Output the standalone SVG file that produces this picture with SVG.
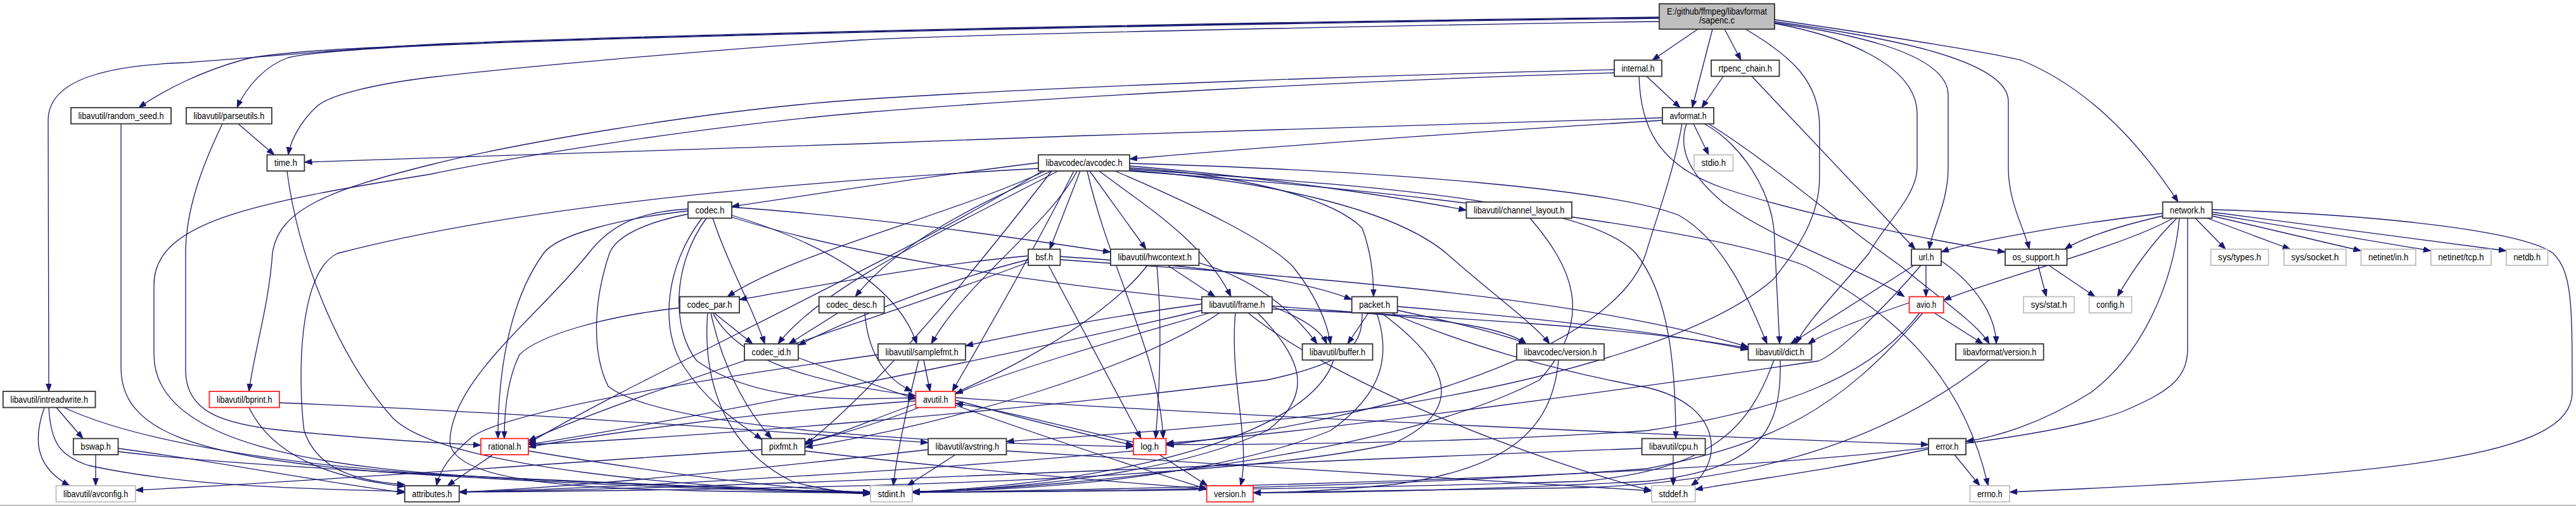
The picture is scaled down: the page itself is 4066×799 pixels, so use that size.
<svg xmlns="http://www.w3.org/2000/svg" width="4066" height="799" viewBox="0 0 4066 799">
<style>
.n rect{fill:#fff;stroke:#333;stroke-width:1.8}
.n.g rect{stroke:#bfbfbf}
.n.r rect{stroke:#ff2020}
.n.root rect{fill:#bfbfbf}
.n text{font-family:"Liberation Sans",Arial,sans-serif;font-size:14.5px;text-anchor:middle;fill:#000}
#edges path{fill:none;stroke:#191970;stroke-width:1.3;marker-end:url(#a)}
</style>
<defs>
<marker id="a" markerWidth="13" markerHeight="10" refX="12" refY="4.5" orient="auto" markerUnits="userSpaceOnUse"><path d="M0,0 L12,4.5 L0,9 z" fill="#191970" stroke="#191970" stroke-width="0.8"/></marker>
</defs>
<rect x="0" y="0" width="4066" height="799" fill="#fff"/>
<line x1="0" y1="798" x2="4066" y2="798" stroke="#c0c0c0" stroke-width="2"/>
<g id="edges">
<path d="M2680,46 L2608,95"/>
<path d="M2703,46 L2671,170"/>
<path d="M2722,46 L2748,95"/>
<path d="M2619,28 C2100,34 1200,50 700,70 C560,76 430,82 385,94 C320,112 262,140 219,170"/>
<path d="M2619,29 C2100,35 1200,51 700,71 C580,76 480,84 455,91 C420,103 390,135 374,170"/>
<path d="M2619,27 C2100,33 1200,49 700,69 C560,76 330,97 290,99 C180,103 76,122 76,190 L77,618"/>
<path d="M2619,34 C2200,40 1500,55 1360,63 C1100,80 800,108 680,122 C590,133 520,150 500,168 C472,194 458,225 455,244.5"/>
<path d="M2801,36 C2900,50 3075,80 3075,150 L3075,265 C3075,320 3050,360 3045,393.5"/>
<path d="M2801,34 C2950,55 3170,90 3170,160 L3170,265 C3170,320 3195,360 3203,393.5"/>
<path d="M2801,31 C3000,60 3150,85 3190,95 C3300,140 3380,230 3438,319"/>
<path d="M2801,37 C2900,55 3026,100 3026,180 L3026,265 C3026,310 2970,360 2950,400 C2900,460 2850,510 2835,543"/>
<path d="M2755,46 C2830,90 2872,130 2872,200 L2872,280 C2872,340 2840,390 2800,440 C2700,530 2450,600 2200,640 C1950,675 1700,690 1588.5,697"/>
<path d="M2599,120.5 L2652,170"/>
<path d="M2587,120.5 C2590,200 2615,260 2720,297 C2850,340 3050,380 3165,398"/>
<path d="M2548,110 C2200,118 1700,135 1360,157 C1100,175 800,230 680,260 C520,300 440,330 430,400 C425,480 400,560 393,618"/>
<path d="M2548,115 C2200,125 1700,150 1360,178 C1100,200 800,250 680,275 C400,320 243,350 243,450 L243,560 C243,700 500,740 800,755 C1000,765 1250,775 1374,778"/>
<path d="M2720,120.5 L2686,170"/>
<path d="M2765,120.5 L3023,393.5"/>
<path d="M2624,186 C2300,195 1800,210 1360,227 C1000,240 700,248 480.5,256"/>
<path d="M2624,190 C2300,210 2000,232 1783,251"/>
<path d="M2673,195.5 L2697,244.5"/>
<path d="M2690,195.5 C2745,225 2800,300 2801,380 L2809,543"/>
<path d="M2697,195.5 C2800,260 2900,350 3000,420 C3060,470 3120,510 3140,543"/>
<path d="M2662,195.5 C2650,230 2660,270 2720,320 C2800,380 2950,430 3006,468.5"/>
<path d="M2655,195.5 C2640,280 2612,350 2598,400 C2550,550 2200,660 1840.5,703"/>
<path d="M376,195.5 L433,244.5"/>
<path d="M351,195.5 C320,260 293,330 293,400 L293,585 C293,650 350,670 450,680 C600,695 700,700 759,703"/>
<path d="M191,195.5 L191,580 C191,680 300,720 600,745 C900,765 1200,775 1374,779"/>
<path d="M453,270 C470,400 530,560 620,660 C700,740 1100,770 1374,780"/>
<path d="M89,643.5 L131,692.5"/>
<path d="M70,643.5 C50,700 60,740 110,767"/>
<path d="M77,643.5 C80,700 95,720 140,735 C300,770 500,772 638.8,776"/>
<path d="M101,643.5 C200,690 400,730 700,750 C1000,765 1250,775 1374,777"/>
<path d="M151,718 L151,767"/>
<path d="M186.5,708 C350,730 500,760 638.8,778"/>
<path d="M186.5,713 C400,740 900,760 1374,779"/>
<path d="M393,643.5 C430,720 520,755 638.8,768"/>
<path d="M441,636 C800,650 1200,680 1465,699"/>
<path d="M1639,257 C1450,280 1300,305 1155,326"/>
<path d="M1155,327 C1400,345 1600,375 1753,398"/>
<path d="M1125,344.5 C1150,420 1190,490 1207,543"/>
<path d="M1155,340 C1320,390 1420,460 1447,543"/>
<path d="M1155,343 C1400,420 1800,470 2100,490 C2300,505 2380,520 2409,543"/>
<path d="M1115,344.5 C1060,420 1060,520 1100,570 C1200,640 1350,630 1445.4,628"/>
<path d="M1108,344.5 C1050,420 1040,520 1080,580 C1120,640 1170,670 1202.5,694"/>
<path d="M1086,333 C980,345 880,370 858,400 C800,480 786,600 786,692.5"/>
<path d="M1086,330 C1000,335 960,360 929,400 C850,500 710,600 710,700 C720,760 900,770 1100,775 C1250,778 1330,778 1374,778"/>
<path d="M1086,338 C1000,355 970,380 962,400 C935,480 935,560 960,610 C1050,680 1500,700 1789,705"/>
<path d="M1705,270 L1657,393.5"/>
<path d="M1720,270 L1809,393.5"/>
<path d="M1735,270 C1800,320 1900,380 1943,468.5"/>
<path d="M1783,265 C1950,275 2100,310 2150,360 C2165,400 2168,440 2168,468.5"/>
<path d="M1783,262 C2000,280 2200,310 2314.5,332"/>
<path d="M1783,258 C2200,270 2550,300 2650,340 C2720,380 2760,470 2789,543"/>
<path d="M1783,267 C2100,290 2500,310 2582,400 C2630,460 2645,560 2645,692.5"/>
<path d="M1783,270 C2200,300 2700,360 2850,420 C3000,500 3100,600 3138,767"/>
<path d="M1783,269 C2000,285 2200,330 2283,400 C2350,460 2420,510 2446,543"/>
<path d="M1760,270 C1900,330 2000,380 2040,420 C2080,470 2095,510 2100,543"/>
<path d="M1650,270 C1500,340 1250,400 1148,468.5"/>
<path d="M1660,270 C1550,320 1420,380 1350,468.5"/>
<path d="M1670,270 C1500,360 1300,450 1228,543"/>
<path d="M1695,270 C1640,380 1560,520 1503,618"/>
<path d="M1716,270 C1750,420 1830,560 1836,692.5"/>
<path d="M1660,270 C1560,400 1400,600 1270.6,703"/>
<path d="M1645,270 C1400,420 1000,600 834,700"/>
<path d="M1700,270 C1660,350 1520,450 1470,543"/>
<path d="M1639,266 C1200,290 800,330 533,400 C470,430 470,600 480,680 C500,740 560,760 638.8,765"/>
<path d="M2415,344.5 C2480,420 2520,500 2430,600 C2200,720 1700,770 1440,777"/>
<path d="M3465,344.5 L3513,393.5"/>
<path d="M3484,344.5 L3615,393.5"/>
<path d="M3491.8,341 L3726.7,396"/>
<path d="M3491.8,338 L3837,396"/>
<path d="M3491.8,335 L3956,396"/>
<path d="M3491.8,331 C3800,340 3990,370 4030,400 C4060,430 4060,480 4060,620 C4060,720 3800,750 3172,777"/>
<path d="M3413.6,341 C3330,360 3280,380 3259,393.5"/>
<path d="M3413.6,337 C3250,355 3100,385 3064,398"/>
<path d="M3430,344.5 C3350,390 3150,440 3067.8,474"/>
<path d="M3436,344.5 C3400,380 3370,420 3342,468.5"/>
<path d="M3440,344.5 C3430,450 3380,560 3300,620 C3220,670 3150,690 3103,697"/>
<path d="M3453,344.5 L3453,550 C3453,600 3420,620 3350,650 C3100,740 2200,765 1440,778"/>
<path d="M1655,419 L1801,692.5"/>
<path d="M1623,404 C1450,420 1300,450 1167,473"/>
<path d="M1623,410 C1500,440 1350,500 1260,545"/>
<path d="M1623,414 C1400,500 1000,620 834,696"/>
<path d="M1673.5,405 C1900,420 2050,440 2133.7,473"/>
<path d="M1673.5,410 C2100,440 2500,470 2759.5,548"/>
<path d="M1843,419 L1918,468.5"/>
<path d="M1826,419 C1835,520 1830,620 1824,692.5"/>
<path d="M1892.5,415 C1980,440 2040,490 2079,543"/>
<path d="M1811,419 C1750,500 1550,630 1270.6,700"/>
<path d="M1897,480 C1750,500 1620,525 1524,546"/>
<path d="M1910,494 C1750,540 1580,590 1508,622"/>
<path d="M1897,490 C1600,560 1100,660 834,702"/>
<path d="M1925,494 C1800,580 1500,670 1270.6,706"/>
<path d="M1950,494 C1940,600 1975,700 1958,767"/>
<path d="M2008,484 C2050,500 2085,520 2094,543"/>
<path d="M2008,488 C2300,500 2600,520 2759.5,550"/>
<path d="M1970,494 C2100,600 2400,720 2607,775"/>
<path d="M1985,494 C2050,560 2080,620 2000,680 C1850,750 1600,772 1440,777"/>
<path d="M2160,494 L2127,543"/>
<path d="M2205.7,490 C2300,510 2380,530 2409,543"/>
<path d="M2205.7,484 C2400,500 2600,520 2759.5,552"/>
<path d="M2196,494 C2300,540 2450,585 2600,612 C2720,640 2720,730 2669,767"/>
<path d="M2173,494 C2195,560 2185,620 2100,680 C1900,760 1600,775 1440,776"/>
<path d="M2180,494 C2270,560 2330,640 2200,700 C1900,770 1000,775 724.8,777"/>
<path d="M2150,494 C2150,540 2140,570 2000,600 C1600,650 1100,690 834,702"/>
<path d="M1127,494 L1188,543"/>
<path d="M1073,486 C950,500 850,530 820,560 C800,600 796,650 796,692.5"/>
<path d="M1122,494 C1140,580 1180,650 1218,692.5"/>
<path d="M1125,494 C1160,560 1250,600 1445.4,625"/>
<path d="M1117,494 C1110,580 1130,700 1250,760 C1300,775 1340,778 1374,778"/>
<path d="M1323,494 L1245,543"/>
<path d="M1365,494 C1370,560 1400,600 1440,618"/>
<path d="M1260,565 C1330,590 1400,615 1445.4,630"/>
<path d="M1458,568.5 L1468,618"/>
<path d="M1450,568.5 C1430,650 1415,720 1410,767"/>
<path d="M1386,560 C1100,600 800,650 745,690 C710,720 695,740 689,767"/>
<path d="M1508,632 C1650,670 1750,695 1789,703"/>
<path d="M1508,640 C1650,690 1800,740 1904.7,772"/>
<path d="M1508,628 C2000,660 2700,690 3044,702"/>
<path d="M1445.4,633 C1200,650 950,685 834,706"/>
<path d="M1445.4,638 C1380,660 1320,690 1270.6,698"/>
<path d="M1789,698 C1700,680 1600,650 1508,637"/>
<path d="M1830,718 L1906,767"/>
<path d="M1789,712 C1500,740 1000,770 724.8,777"/>
<path d="M778,718 L706,767"/>
<path d="M834,712 C1000,740 1200,770 1374,778"/>
<path d="M1202.5,710 C900,730 500,760 213.8,774"/>
<path d="M1270.6,712 C1500,740 1750,760 1904.7,772"/>
<path d="M1508,718 L1432,767"/>
<path d="M1588.5,712 C2000,740 2400,765 2607,775"/>
<path d="M1465,710 C1200,740 900,770 724.8,777"/>
<path d="M2641,718 L2641,767"/>
<path d="M2591.6,708 C2000,730 1200,770 724.8,777"/>
<path d="M3085,718 L3125,767"/>
<path d="M3044,709 C2900,740 2750,760 2675.7,773"/>
<path d="M2800,568.5 C2760,680 2700,740 2500,760 C2000,775 1600,777 1440,777"/>
<path d="M2810,568.5 C2812,680 2780,740 2600,760 C2300,775 2100,778 1978,778"/>
<path d="M2460,568.5 C2450,680 2380,740 2200,765 C2100,775 2030,778 1978,778"/>
<path d="M2105,568.5 C2070,680 1800,760 1440,777"/>
<path d="M3140,568.5 C3000,680 2800,760 2500,770 C2200,776 2050,778 1978,778"/>
<path d="M3013.6,478 C2950,500 2880,525 2854,543"/>
<path d="M3053,494 L3130,543"/>
<path d="M3030,494 C2950,600 2800,650 2600,680 C2300,700 2000,702 1840.5,702"/>
<path d="M3035,494 C2900,650 2800,700 2600,740 C2200,770 1700,777 1440,777"/>
<path d="M3040,419 L3040,468.5"/>
<path d="M3021,419 L2826,543"/>
<path d="M3032,419 C2980,480 2900,560 2870,570 C2600,610 2100,680 1840.5,700"/>
<path d="M3064,412 C3120,450 3150,500 3151,543"/>
<path d="M3217,419 L3230,468.5"/>
<path d="M3234,419 L3307,468.5"/>
</g>
<g id="n-root" class="n root"><rect x="2619" y="6" width="182" height="40"/><text x="2710" y="22.7" textLength="158" lengthAdjust="spacingAndGlyphs">E:/github/ffmpeg/libavformat</text><text x="2710" y="37" textLength="56" lengthAdjust="spacingAndGlyphs">/sapenc.c</text></g>
<g id="n-internal" class="n"><rect x="2548" y="95" width="75" height="25.5"/><text x="2585.5" y="112.5" textLength="52" lengthAdjust="spacingAndGlyphs">internal.h</text></g>
<g id="n-rtpenc_chain" class="n"><rect x="2701" y="95" width="107.5" height="25.5"/><text x="2754.75" y="112.5" textLength="84.5" lengthAdjust="spacingAndGlyphs">rtpenc_chain.h</text></g>
<g id="n-random_seed" class="n"><rect x="112" y="170" width="158" height="25.5"/><text x="191" y="187.5" textLength="135" lengthAdjust="spacingAndGlyphs">libavutil/random_seed.h</text></g>
<g id="n-parseutils" class="n"><rect x="294" y="170" width="135" height="25.5"/><text x="361.5" y="187.5" textLength="112" lengthAdjust="spacingAndGlyphs">libavutil/parseutils.h</text></g>
<g id="n-avformat" class="n"><rect x="2624" y="170" width="81" height="25.5"/><text x="2664.5" y="187.5" textLength="58" lengthAdjust="spacingAndGlyphs">avformat.h</text></g>
<g id="n-time" class="n"><rect x="421.5" y="244.5" width="59" height="25.5"/><text x="451" y="262" textLength="36" lengthAdjust="spacingAndGlyphs">time.h</text></g>
<g id="n-avcodec" class="n"><rect x="1639" y="244.5" width="144" height="25.5"/><text x="1711" y="262" textLength="121" lengthAdjust="spacingAndGlyphs">libavcodec/avcodec.h</text></g>
<g id="n-stdio" class="n g"><rect x="2674" y="244.5" width="61.5" height="25.5"/><text x="2704.75" y="262" textLength="38.5" lengthAdjust="spacingAndGlyphs">stdio.h</text></g>
<g id="n-codec" class="n"><rect x="1086" y="319" width="69" height="25.5"/><text x="1120.5" y="336.5" textLength="46" lengthAdjust="spacingAndGlyphs">codec.h</text></g>
<g id="n-channel_layout" class="n"><rect x="2314.5" y="319" width="166.5" height="25.5"/><text x="2397.75" y="336.5" textLength="143.5" lengthAdjust="spacingAndGlyphs">libavutil/channel_layout.h</text></g>
<g id="n-network" class="n"><rect x="3413.6" y="319" width="78" height="25.5"/><text x="3452.6" y="336.5" textLength="55" lengthAdjust="spacingAndGlyphs">network.h</text></g>
<g id="n-bsf" class="n"><rect x="1623" y="393.5" width="50.5" height="25.5"/><text x="1648.25" y="411" textLength="27.5" lengthAdjust="spacingAndGlyphs">bsf.h</text></g>
<g id="n-hwcontext" class="n"><rect x="1753" y="393.5" width="139.5" height="25.5"/><text x="1822.75" y="411" textLength="116.5" lengthAdjust="spacingAndGlyphs">libavutil/hwcontext.h</text></g>
<g id="n-url" class="n"><rect x="3017" y="393.5" width="47" height="25.5"/><text x="3040.5" y="411" textLength="24" lengthAdjust="spacingAndGlyphs">url.h</text></g>
<g id="n-os_support" class="n"><rect x="3165" y="393.5" width="97.5" height="25.5"/><text x="3213.75" y="411" textLength="74.5" lengthAdjust="spacingAndGlyphs">os_support.h</text></g>
<g id="n-sys_types" class="n g"><rect x="3489.6" y="393.5" width="91" height="25.5"/><text x="3535.1" y="411" textLength="68" lengthAdjust="spacingAndGlyphs">sys/types.h</text></g>
<g id="n-sys_socket" class="n g"><rect x="3605" y="393.5" width="98" height="25.5"/><text x="3654" y="411" textLength="75" lengthAdjust="spacingAndGlyphs">sys/socket.h</text></g>
<g id="n-netinet_in" class="n g"><rect x="3726.7" y="393.5" width="86.3" height="25.5"/><text x="3769.85" y="411" textLength="63.3" lengthAdjust="spacingAndGlyphs">netinet/in.h</text></g>
<g id="n-netinet_tcp" class="n g"><rect x="3837" y="393.5" width="95" height="25.5"/><text x="3884.5" y="411" textLength="72" lengthAdjust="spacingAndGlyphs">netinet/tcp.h</text></g>
<g id="n-netdb" class="n g"><rect x="3956" y="393.5" width="65.5" height="25.5"/><text x="3988.75" y="411" textLength="42.5" lengthAdjust="spacingAndGlyphs">netdb.h</text></g>
<g id="n-codec_par" class="n"><rect x="1073" y="468.5" width="94" height="25.5"/><text x="1120" y="486" textLength="71" lengthAdjust="spacingAndGlyphs">codec_par.h</text></g>
<g id="n-codec_desc" class="n"><rect x="1292.7" y="468.5" width="103" height="25.5"/><text x="1344.2" y="486" textLength="80" lengthAdjust="spacingAndGlyphs">codec_desc.h</text></g>
<g id="n-frame" class="n"><rect x="1897" y="468.5" width="111" height="25.5"/><text x="1952.5" y="486" textLength="88" lengthAdjust="spacingAndGlyphs">libavutil/frame.h</text></g>
<g id="n-packet" class="n"><rect x="2133.7" y="468.5" width="72" height="25.5"/><text x="2169.7" y="486" textLength="49" lengthAdjust="spacingAndGlyphs">packet.h</text></g>
<g id="n-avio" class="n r"><rect x="3013.6" y="468.5" width="54.2" height="25.5"/><text x="3040.7" y="486" textLength="31.2" lengthAdjust="spacingAndGlyphs">avio.h</text></g>
<g id="n-sys_stat" class="n g"><rect x="3194" y="468.5" width="80" height="25.5"/><text x="3234" y="486" textLength="57" lengthAdjust="spacingAndGlyphs">sys/stat.h</text></g>
<g id="n-config" class="n g"><rect x="3297.6" y="468.5" width="67" height="25.5"/><text x="3331.1" y="486" textLength="44" lengthAdjust="spacingAndGlyphs">config.h</text></g>
<g id="n-codec_id" class="n"><rect x="1175" y="543" width="85" height="25.5"/><text x="1217.5" y="560.5" textLength="62" lengthAdjust="spacingAndGlyphs">codec_id.h</text></g>
<g id="n-samplefmt" class="n"><rect x="1386" y="543" width="138" height="25.5"/><text x="1455" y="560.5" textLength="115" lengthAdjust="spacingAndGlyphs">libavutil/samplefmt.h</text></g>
<g id="n-buffer" class="n"><rect x="2055.6" y="543" width="111" height="25.5"/><text x="2111.1" y="560.5" textLength="88" lengthAdjust="spacingAndGlyphs">libavutil/buffer.h</text></g>
<g id="n-avcodec_version" class="n"><rect x="2394" y="543" width="138" height="25.5"/><text x="2463" y="560.5" textLength="115" lengthAdjust="spacingAndGlyphs">libavcodec/version.h</text></g>
<g id="n-dict" class="n"><rect x="2759.5" y="543" width="100" height="25.5"/><text x="2809.5" y="560.5" textLength="77" lengthAdjust="spacingAndGlyphs">libavutil/dict.h</text></g>
<g id="n-avformat_version" class="n"><rect x="3087" y="543" width="138.6" height="25.5"/><text x="3156.3" y="560.5" textLength="115.6" lengthAdjust="spacingAndGlyphs">libavformat/version.h</text></g>
<g id="n-intreadwrite" class="n"><rect x="4.8" y="618" width="145.7" height="25.5"/><text x="77.65" y="635.5" textLength="122.7" lengthAdjust="spacingAndGlyphs">libavutil/intreadwrite.h</text></g>
<g id="n-bprint" class="n r"><rect x="330.4" y="618" width="110.6" height="25.5"/><text x="385.7" y="635.5" textLength="87.6" lengthAdjust="spacingAndGlyphs">libavutil/bprint.h</text></g>
<g id="n-avutil" class="n r"><rect x="1445.4" y="618" width="62.6" height="25.5"/><text x="1476.7" y="635.5" textLength="39.6" lengthAdjust="spacingAndGlyphs">avutil.h</text></g>
<g id="n-bswap" class="n"><rect x="115.8" y="692.5" width="70.7" height="25.5"/><text x="151.15" y="710" textLength="47.7" lengthAdjust="spacingAndGlyphs">bswap.h</text></g>
<g id="n-rational" class="n r"><rect x="759" y="692.5" width="75" height="25.5"/><text x="796.5" y="710" textLength="52" lengthAdjust="spacingAndGlyphs">rational.h</text></g>
<g id="n-pixfmt" class="n"><rect x="1202.5" y="692.5" width="68" height="25.5"/><text x="1236.5" y="710" textLength="45" lengthAdjust="spacingAndGlyphs">pixfmt.h</text></g>
<g id="n-avstring" class="n"><rect x="1465" y="692.5" width="123.5" height="25.5"/><text x="1526.75" y="710" textLength="100.5" lengthAdjust="spacingAndGlyphs">libavutil/avstring.h</text></g>
<g id="n-log" class="n r"><rect x="1789" y="692.5" width="51.5" height="25.5"/><text x="1814.75" y="710" textLength="28.5" lengthAdjust="spacingAndGlyphs">log.h</text></g>
<g id="n-cpu" class="n"><rect x="2591.6" y="692.5" width="100" height="25.5"/><text x="2641.6" y="710" textLength="77" lengthAdjust="spacingAndGlyphs">libavutil/cpu.h</text></g>
<g id="n-error" class="n"><rect x="3044" y="692.5" width="59" height="25.5"/><text x="3073.5" y="710" textLength="36" lengthAdjust="spacingAndGlyphs">error.h</text></g>
<g id="n-avconfig" class="n g"><rect x="88.5" y="767" width="125.3" height="25.5"/><text x="151.15" y="784.5" textLength="102.3" lengthAdjust="spacingAndGlyphs">libavutil/avconfig.h</text></g>
<g id="n-attributes" class="n"><rect x="638.8" y="767" width="86" height="25.5"/><text x="681.8" y="784.5" textLength="63" lengthAdjust="spacingAndGlyphs">attributes.h</text></g>
<g id="n-stdint" class="n g"><rect x="1374" y="767" width="66" height="25.5"/><text x="1407" y="784.5" textLength="43" lengthAdjust="spacingAndGlyphs">stdint.h</text></g>
<g id="n-version" class="n r"><rect x="1904.7" y="767" width="73.3" height="25.5"/><text x="1941.35" y="784.5" textLength="50.3" lengthAdjust="spacingAndGlyphs">version.h</text></g>
<g id="n-stddef" class="n g"><rect x="2607" y="767" width="68.7" height="25.5"/><text x="2641.35" y="784.5" textLength="45.7" lengthAdjust="spacingAndGlyphs">stddef.h</text></g>
<g id="n-errno" class="n g"><rect x="3109.4" y="767" width="62.6" height="25.5"/><text x="3140.7" y="784.5" textLength="39.6" lengthAdjust="spacingAndGlyphs">errno.h</text></g>
</svg>
